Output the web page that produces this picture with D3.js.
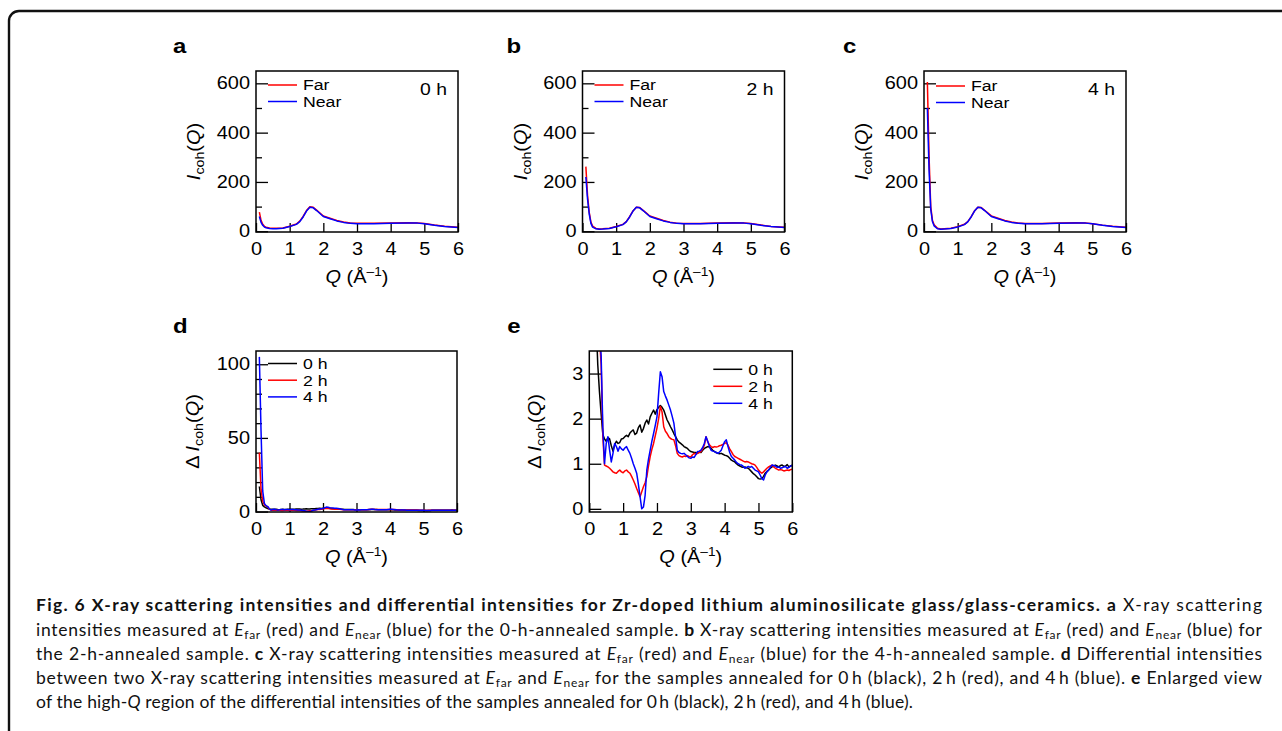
<!DOCTYPE html>
<html><head><meta charset="utf-8">
<script src="https://cdn.jsdelivr.net/npm/d3@7"></script>
<style>body{margin:0;background:#fff}svg{display:block}</style>
</head><body>
<svg id="chart" width="1282" height="731"></svg>
<script>
// ---------- data ----------
const qI = [0.1, 0.15, 0.2, 0.25, 0.3, 0.4, 0.5, 0.6, 0.8, 1.0, 1.2, 1.3, 1.4, 1.5, 1.6, 1.7, 1.8, 1.9, 2.0, 2.2, 2.4, 2.6, 2.8, 3.0, 3.5, 4.0, 4.5, 4.8, 5.0, 5.3, 5.6, 6.0];
const near0 = [60, 36, 24, 17, 14, 11.5, 10.5, 10.5, 12, 19, 28, 39, 58, 82, 97, 95, 84, 72, 60, 51, 42, 36, 32, 30.5, 30.5, 32, 34, 33, 30, 24, 19, 15];
const far0  = [78, 44, 28, 20, 16.5, 13, 12, 12, 13.5, 20.5, 29.5, 41, 60, 84, 99, 97, 86, 74, 62, 53, 44, 37.5, 33.5, 32, 32, 33.2, 35, 34, 31, 25, 20, 16];
const near2 = [220, 130, 70, 32, 17, 10, 8.5, 9, 11, 18, 27, 38, 58, 82, 97, 95, 84, 72, 60, 51, 42, 36, 32, 30.5, 30.5, 32, 34, 33, 30, 24, 19, 15];
const far2  = [262, 145, 77, 37, 21, 11.5, 9.5, 10, 12, 19, 28, 39, 59, 82.5, 97.5, 96, 85, 73.5, 62, 53, 43.5, 37, 33, 31.5, 31.8, 33.5, 35, 34, 31, 25, 19.8, 15.9];
const near4 = [500, 250, 90, 40, 22, 10, 8.5, 9.5, 11.5, 17.5, 27, 38, 58, 82, 97, 95, 84, 72, 60, 51, 42, 36, 32, 30.5, 30.5, 32, 34, 33, 30, 24, 19, 15];
const far4  = [605, 305, 100, 45, 26, 11.8, 9.5, 10.5, 12.5, 18.8, 28.2, 39, 58.2, 82.3, 97.5, 96, 85.3, 73.8, 62.4, 53, 43.5, 37.2, 33.2, 31.5, 31.9, 33.5, 35, 34, 30.8, 24.9, 20, 16];

const qD = [0.1,0.15,0.2,0.25,0.3,0.35,0.4,0.45,0.5,0.55,0.6,0.65,0.7,0.75,0.8,0.85,0.9,0.95,1.0,1.05,1.1,1.15,1.2,1.25,1.3,1.35,1.4,1.45,1.5,1.55,1.6,1.65,1.7,1.75,1.8,1.85,1.9,1.95,2.0,2.05,2.1,2.15,2.2,2.25,2.3,2.35,2.4,2.45,2.5,2.55,2.6,2.65,2.7,2.75,2.8,2.85,2.9,2.95,3.0,3.05,3.1,3.15,3.2,3.25,3.3,3.35,3.4,3.45,3.5,3.55,3.6,3.65,3.7,3.75,3.8,3.85,3.9,3.95,4.0,4.05,4.1,4.15,4.2,4.25,4.3,4.35,4.4,4.45,4.5,4.55,4.6,4.65,4.7,4.75,4.8,4.85,4.9,4.95,5.0,5.05,5.1,5.15,5.2,5.25,5.3,5.35,5.4,5.45,5.5,5.55,5.6,5.65,5.7,5.75,5.8,5.85,5.9,5.95,6.0];
const d0h = [17,8,4.2,3.2,2.6,2.1,1.65,1.55,1.5,1.58,1.55,1.4,1.28,1.42,1.5,1.45,1.47,1.55,1.56,1.6,1.63,1.6,1.68,1.72,1.75,1.65,1.68,1.8,1.86,1.7,1.78,1.9,1.97,1.88,2.04,2.12,2.19,2.1,2.2,2.25,2.29,2.25,2.19,2.08,1.97,1.9,1.82,1.75,1.67,1.6,1.53,1.48,1.45,1.42,1.38,1.36,1.34,1.3,1.27,1.26,1.25,1.25,1.24,1.26,1.25,1.3,1.34,1.36,1.38,1.37,1.34,1.3,1.27,1.25,1.23,1.22,1.23,1.21,1.19,1.18,1.16,1.12,1.08,1.06,1.04,1.0,0.97,0.95,0.93,0.92,0.93,0.91,0.9,0.86,0.82,0.78,0.75,0.71,0.67,0.66,0.67,0.72,0.79,0.83,0.86,0.9,0.93,0.95,0.97,0.95,0.93,0.96,0.97,0.94,0.95,0.98,0.93,0.95,0.97];
const d2h = [40,15,7,4.6,3.8,3.2,1.6,0.97,0.95,0.93,0.9,0.86,0.82,0.8,0.79,0.83,0.86,0.82,0.8,0.84,0.86,0.82,0.79,0.72,0.64,0.55,0.45,0.36,0.27,0.38,0.49,0.58,0.71,0.95,1.16,1.32,1.45,1.62,1.79,2.0,2.27,2.15,1.82,1.72,1.67,1.6,1.56,1.54,1.53,1.4,1.23,1.18,1.16,1.15,1.17,1.16,1.18,1.16,1.15,1.2,1.23,1.21,1.23,1.25,1.27,1.33,1.41,1.6,1.49,1.42,1.38,1.36,1.38,1.37,1.38,1.4,1.41,1.43,1.45,1.47,1.41,1.33,1.27,1.2,1.16,1.14,1.12,1.1,1.08,1.06,1.04,1.05,1.04,1.02,1.0,0.99,0.97,0.92,0.86,0.82,0.79,0.82,0.86,0.9,0.93,0.95,0.97,0.93,0.9,0.88,0.86,0.87,0.86,0.84,0.85,0.86,0.85,0.87,0.88];
const d4h = [105,55,14,5.5,4.0,3.4,1.8,1.0,1.45,1.6,1.3,1.04,1.23,1.45,1.38,1.28,1.38,1.33,1.3,1.35,1.38,1.3,1.23,1.12,1.0,0.9,0.79,0.55,0.27,0.0,0.04,0.3,0.86,1.1,1.3,1.5,1.67,1.85,2.04,2.56,3.04,2.93,2.6,2.5,2.41,2.3,2.19,2.05,1.9,1.6,1.3,1.25,1.23,1.22,1.23,1.2,1.16,1.13,1.12,1.15,1.14,1.2,1.27,1.28,1.3,1.36,1.45,1.6,1.5,1.38,1.3,1.28,1.27,1.25,1.23,1.26,1.3,1.4,1.49,1.53,1.38,1.25,1.16,1.12,1.08,1.03,1.0,0.98,0.97,0.94,0.9,0.92,0.94,0.92,0.94,0.9,0.86,0.84,0.82,0.75,0.67,0.64,0.75,0.82,0.86,0.92,0.97,0.96,0.95,0.92,0.93,0.9,0.91,0.93,0.94,0.9,0.92,0.95,0.96];

const xTicks = [0, 1, 2, 3, 4, 5, 6];
const yTicksI = [0, 200, 400, 600];
const yMinorI = [100, 300, 500];
const yTicksD = [0, 50, 100];
const yMinorD = [10, 20, 30, 40, 60, 70, 80, 90];
const yTicksE = [0, 1, 2, 3];
const legendI = ["Far", "Near"];
const legendD = ["0 h", "2 h", "4 h"];
const annealTimes = ["0 h", "2 h", "4 h"];
const panelLetters = ["a", "b", "c", "d", "e"];

// ---------- drawing ----------
const svg = d3.select("#chart");
const RED = "#ff0000", BLUE = "#0000ff", BLACK = "#000000";
const FONT = "'Liberation Sans', Arial, Helvetica, sans-serif";
const SX = 1.14; // horizontal stretch of the figure's lettering

function stretch(sel) {
  sel.each(function () {
    const n = d3.select(this);
    const x = +n.attr("x") || 0, y = +n.attr("y") || 0;
    n.attr("transform", `translate(${x},${y}) scale(${SX},1) translate(${-x},${-y})`);
  });
}

// outer frame
svg.append("rect").attr("x", 9).attr("y", 11).attr("width", 1400).attr("height", 900)
  .attr("rx", 10).attr("fill", "none").attr("stroke", "#111").attr("stroke-width", 2.4);

function panel(cfg) {
  const g = svg.append("g").attr("transform", `translate(${cfg.x0},${cfg.y0})`);
  const x = d3.scaleLinear().domain([0, 6]).range([0, cfg.w]);
  const y = d3.scaleLinear().domain(cfg.ydom).range([cfg.h, 0]);
  const cid = "clip" + cfg.id;
  g.append("clipPath").attr("id", cid).append("rect").attr("width", cfg.w).attr("height", cfg.h);

  // axes
  const ax = g.append("g").attr("transform", `translate(0,${cfg.h})`)
    .call(d3.axisBottom(x).tickValues(xTicks).tickSize(-9).tickPadding(11).tickFormat(d3.format("d")));
  const ay = g.append("g")
    .call(d3.axisLeft(y).tickValues(cfg.yTicks).tickSize(-12).tickPadding(6).tickFormat(d3.format("d")));
  if (cfg.yMinor) {
    g.append("g").call(d3.axisLeft(y).tickValues(cfg.yMinor).tickSize(-6).tickFormat(""))
      .call(s => s.select(".domain").remove())
      .selectAll("line").attr("stroke", "#000").attr("stroke-width", 1.3);
  }
  [ax, ay].forEach(a => {
    a.select(".domain").remove();
    a.selectAll("line").attr("stroke", "#000").attr("stroke-width", 1.3);
    a.selectAll("text").attr("font-family", FONT).attr("font-size", 17.5).attr("fill", "#000").call(stretch);
  });

  // lines
  const plot = g.append("g").attr("clip-path", `url(#${cid})`);
  cfg.series.forEach(s => {
    const line = d3.line().x((d, i) => x(s.q[i])).y(d => y(d));
    plot.append("path").datum(s.v).attr("d", line).attr("fill", "none")
      .attr("stroke", s.color).attr("stroke-width", 1.5).attr("stroke-linejoin", "round");
  });

  // frame
  g.append("rect").attr("width", cfg.w).attr("height", cfg.h).attr("fill", "none")
    .attr("stroke", "#000").attr("stroke-width", 1.5);

  // legend
  cfg.legend.forEach((lab, i) => {
    const ly = cfg.legY + i * cfg.legDy;
    g.append("line").attr("x1", cfg.legX).attr("x2", cfg.legX + 29).attr("y1", ly).attr("y2", ly)
      .attr("stroke", cfg.legColors[i]).attr("stroke-width", 1.5);
    g.append("text").attr("x", cfg.legX + 35).attr("y", ly + 5.5).text(lab)
      .attr("font-family", FONT).attr("font-size", 15.5).attr("fill", "#000").call(stretch);
  });
  if (cfg.tag) {
    g.append("text").attr("x", cfg.w - 11).attr("y", 24).attr("text-anchor", "end").text(cfg.tag)
      .attr("font-family", FONT).attr("font-size", 17).attr("fill", "#000").call(stretch);
  }

  // panel letter
  g.append("text").attr("x", cfg.letterX).attr("y", -18).text(cfg.letter)
    .attr("font-family", FONT).attr("font-weight", "bold").attr("font-size", 21).attr("fill", "#000").call(stretch);

  // x title
  const xt = g.append("text").attr("x", cfg.w / 2).attr("y", cfg.h + 51).attr("text-anchor", "middle")
    .attr("font-family", FONT).attr("font-size", 17.5).attr("fill", "#000");
  xt.append("tspan").attr("font-style", "italic").text("Q");
  xt.append("tspan").text(" (Å");
  xt.append("tspan").attr("font-size", 12).attr("dy", -7).text("\u20131");
  xt.append("tspan").attr("dy", 7).text(")");
  xt.call(stretch);

  // y title
  const yt = g.append("text").attr("transform", `translate(${cfg.yTitleX},${cfg.h / 2}) rotate(-90) scale(${SX},1)`)
    .attr("text-anchor", "middle").attr("font-family", FONT).attr("font-size", 17.5).attr("fill", "#000");
  if (cfg.delta) yt.append("tspan").text("\u0394\u2009");
  yt.append("tspan").attr("font-style", "italic").text("I");
  yt.append("tspan").attr("font-size", 12.5).attr("dy", 4).text("coh");
  yt.append("tspan").attr("dy", -4).text("(");
  yt.append("tspan").attr("font-style", "italic").text("Q");
  yt.append("tspan").text(")");
}

const topCfg = { y0: 71, w: 202, h: 161, ydom: [-3, 650], yTicks: yTicksI, yMinor: yMinorI,
  legend: legendI, legColors: [RED, BLUE], legX: 12, legY: 14, legDy: 16.5, yTitleX: -56 };
panel(Object.assign({}, topCfg, { id: "a", x0: 256, letter: panelLetters[0], letterX: -83, tag: annealTimes[0],
  series: [{ q: qI, v: far0, color: RED }, { q: qI, v: near0, color: BLUE }] }));
panel(Object.assign({}, topCfg, { id: "b", x0: 582.5, letter: panelLetters[1], letterX: -76, tag: annealTimes[1],
  series: [{ q: qI, v: far2, color: RED }, { q: qI, v: near2, color: BLUE }] }));
panel(Object.assign({}, topCfg, { id: "c", x0: 924, letter: panelLetters[2], letterX: -81, tag: annealTimes[2], legY: 15,
  series: [{ q: qI, v: far4, color: RED }, { q: qI, v: near4, color: BLUE }] }));

panel({ id: "d", x0: 256, y0: 351, w: 201, h: 161, ydom: [-0.3, 109], yTicks: yTicksD, yMinor: yMinorD,
  legend: legendD, legColors: [BLACK, RED, BLUE], legX: 12, legY: 12.5, legDy: 16.7, yTitleX: -57,
  letter: panelLetters[3], letterX: -83, delta: true,
  series: [{ q: qD, v: d0h, color: BLACK }, { q: qD, v: d2h, color: RED }, { q: qD, v: d4h, color: BLUE }] });
panel({ id: "e", x0: 589.3, y0: 351, w: 203, h: 161, ydom: [-0.07, 3.5], yTicks: yTicksE,
  legend: legendD, legColors: [BLACK, RED, BLUE], legX: 124, legY: 18.3, legDy: 17, yTitleX: -48,
  letter: panelLetters[4], letterX: -82, delta: true,
  series: [{ q: qD, v: d0h, color: BLACK }, { q: qD, v: d2h, color: RED }, { q: qD, v: d4h, color: BLUE }] });

// ---------- caption ----------
const caption = [
  [["Fig. 6 X-ray scattering intensities and differential intensities for Zr-doped lithium aluminosilicate glass/glass-ceramics.", "b"], [" ", "n"], ["a", "b"], [" X-ray scattering", "n"]],
  [["intensities measured at ", "n"], ["E", "i"], ["far", "sub"], [" (red) and ", "n"], ["E", "i"], ["near", "sub"], [" (blue) for the 0-h-annealed sample. ", "n"], ["b", "b"], [" X-ray scattering intensities measured at ", "n"], ["E", "i"], ["far", "sub"], [" (red) and ", "n"], ["E", "i"], ["near", "sub"], [" (blue) for", "n"]],
  [["the 2-h-annealed sample. ", "n"], ["c", "b"], [" X-ray scattering intensities measured at ", "n"], ["E", "i"], ["far", "sub"], [" (red) and ", "n"], ["E", "i"], ["near", "sub"], [" (blue) for the 4-h-annealed sample. ", "n"], ["d", "b"], [" Differential intensities", "n"]],
  [["between two X-ray scattering intensities measured at ", "n"], ["E", "i"], ["far", "sub"], [" and ", "n"], ["E", "i"], ["near", "sub"], [" for the samples annealed for 0\u2009h (black), 2\u2009h (red), and 4\u2009h (blue). ", "n"], ["e", "b"], [" Enlarged view", "n"]],
  [["of the high-", "n"], ["Q", "i"], [" region of the differential intensities of the samples annealed for 0\u2009h (black), 2\u2009h (red), and 4\u2009h (blue).", "n"]]
];
const capBase = [611, 635.5, 659.5, 683.5, 707.5];
const capLen = [1226, 1226, 1226, 1226, 877];
caption.forEach((segs, li) => {
  const t = svg.append("text").attr("x", 36).attr("y", capBase[li])
    .attr("font-family", "Lato, 'Open Sans', sans-serif").attr("font-size", 17.5).attr("fill", "#111");
  if (capLen[li]) t.attr("textLength", capLen[li]).attr("lengthAdjust", "spacing");
  let shift = 0;
  segs.forEach(([txt, st]) => {
    const target = st === "sub" ? 3.5 : 0;
    const sp = t.append("tspan").text(txt);
    if (target !== shift) { sp.attr("dy", target - shift); shift = target; }
    if (st === "b") sp.attr("font-weight", "bold");
    if (st === "i") sp.attr("font-style", "italic");
    if (st === "sub") sp.attr("font-size", 12);
  });
});
</script>
</body></html>
